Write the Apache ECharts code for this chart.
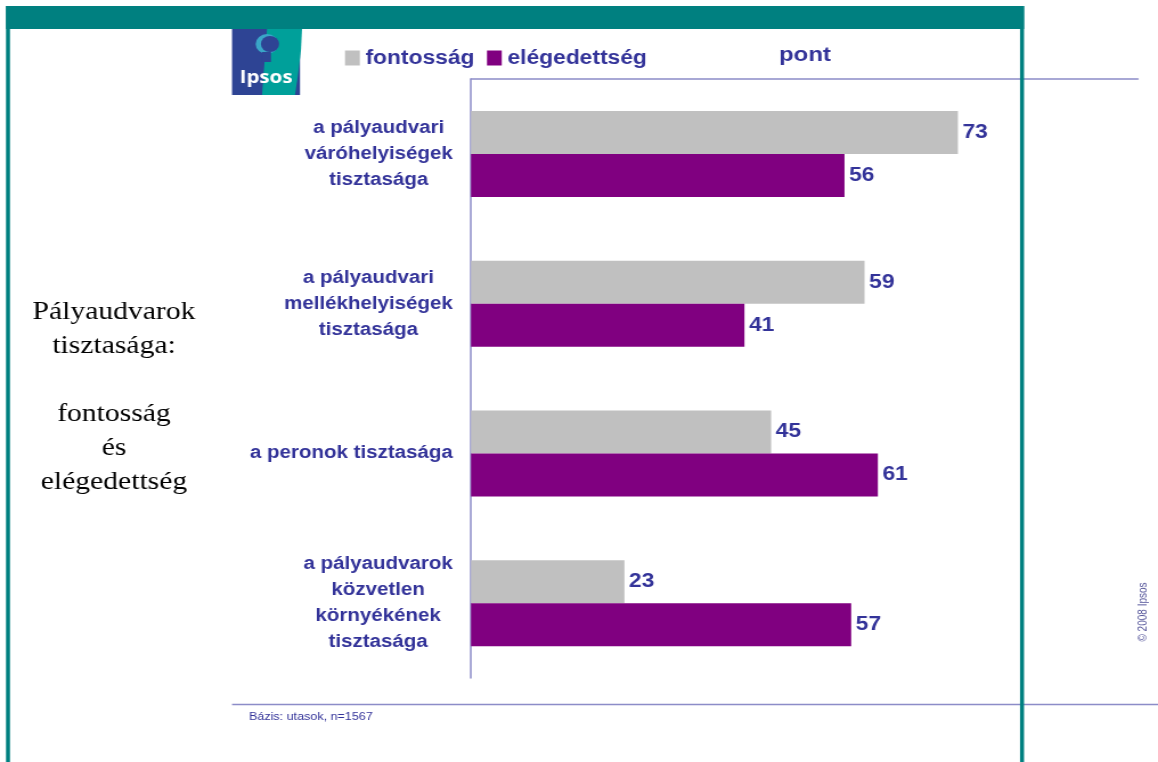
<!DOCTYPE html>
<html>
<head>
<meta charset="utf-8">
<title>Pályaudvarok tisztasága</title>
<script src="https://cdn.jsdelivr.net/npm/echarts@6/dist/echarts.min.js"></script>
<style>
  html, body { margin: 0; padding: 0; background: #fff; overflow: hidden; }
  /* az eredeti 4:3-as dia vízszintesen nyújtva jelenik meg */
  #chart { width: 1016px; height: 762px; transform: scaleX(1.13976); transform-origin: 0 0; }
</style>
</head>
<body>
<div id="chart"></div>
<script>
// adatok
const categories = [
  'a pályaudvari\nváróhelyiségek\ntisztasága',
  'a pályaudvari\nmellékhelyiségek\ntisztasága',
  'a peronok tisztasága',
  'a pályaudvarok\nközvetlen\nkörnyékének\ntisztasága'
]
const fontossag = [73, 59, 45, 23]
const elegedettseg = [56, 41, 61, 57]

const blue = '#333399'
const teal = '#008080'
const lineColor = '#8c8cc8'
const k = 1158 / 1016 // nyújtás: a képernyő x koordinátáit ezzel osztjuk
const px = x => x / k

const myChart = echarts.init(document.getElementById('chart'))

const option = {
  animation: false,
  color: ['#c0c0c0', '#800080'],
  title: [
    {
      text: 'pont',
      left: px(779),
      top: 45,
      padding: 0,
      textStyle: { color: blue, fontFamily: 'Liberation Sans', fontSize: 21, fontWeight: 'bold' }
    }
  ],
  legend: {
    left: px(345),
    top: 48,
    padding: 0,
    icon: 'rect',
    itemWidth: 13,
    itemHeight: 15,
    itemGap: 11,
    textStyle: { color: blue, fontFamily: 'Liberation Sans', fontSize: 20, fontWeight: 'bold' }
  },
  grid: {
    left: px(471),
    top: 79,
    width: px(667),
    height: 599,
    containLabel: false
  },
  xAxis: {
    type: 'value',
    position: 'top',
    min: 0,
    max: 100,
    axisLine: { show: true, lineStyle: { color: lineColor, width: 1.5 } },
    axisTick: { show: false },
    axisLabel: { show: false },
    splitLine: { show: false }
  },
  yAxis: {
    type: 'category',
    inverse: true,
    data: categories,
    axisTick: { show: false },
    axisLine: { show: true, lineStyle: { color: lineColor, width: 1.5 } },
    axisLabel: {
      margin: 16,
      align: 'right',
      // sorok középre zárva a blokkon belül
      formatter: function (value) {
        return value.split('\n').map(function (s) { return '{c|' + s + '}' }).join('\n')
      },
      rich: {
        c: {
          align: 'center',
          color: blue,
          fontFamily: 'Liberation Sans',
          fontSize: 18,
          fontWeight: 'bold',
          lineHeight: 26
        }
      }
    }
  },
  series: [
    {
      name: 'fontosság',
      type: 'bar',
      data: fontossag,
      barWidth: 43,
      barGap: '0%',
      label: {
        show: true,
        position: 'right',
        distance: 4,
        color: blue,
        fontFamily: 'Liberation Sans',
        fontSize: 20,
        fontWeight: 'bold'
      }
    },
    {
      name: 'elégedettség',
      type: 'bar',
      data: elegedettseg,
      barWidth: 43,
      barGap: '0%',
      label: {
        show: true,
        position: 'right',
        distance: 4,
        color: blue,
        fontFamily: 'Liberation Sans',
        fontSize: 20,
        fontWeight: 'bold'
      }
    }
  ],
  graphic: [
    // keret
    { type: 'rect', shape: { x: px(6), y: 6, width: px(1018), height: 23 }, style: { fill: teal }, silent: true },
    { type: 'rect', shape: { x: px(6), y: 6, width: px(4), height: 756 }, style: { fill: teal }, silent: true },
    { type: 'rect', shape: { x: px(1020), y: 6, width: px(4), height: 756 }, style: { fill: teal }, silent: true, z: 100 },
    // alsó vonal
    { type: 'line', shape: { x1: px(232), y1: 704.5, x2: px(1158), y2: 704.5 }, style: { stroke: lineColor, lineWidth: 1.5 }, silent: true },
    // logó
    { type: 'rect', shape: { x: px(232), y: 29, width: px(68), height: 66 }, style: { fill: '#2e4494' }, silent: true },
    {
      type: 'polygon',
      shape: { points: [[px(267), 29], [px(302), 29], [px(301), 50], [px(298), 75], [px(295), 95], [px(262), 95]] },
      style: { fill: '#00a09a' },
      silent: true
    },
    { type: 'circle', shape: { cx: px(267), cy: 44, r: 10 }, style: { fill: '#3aa6c8' }, silent: true },
    { type: 'circle', shape: { cx: px(270), cy: 44, r: 8 }, style: { fill: '#2e4494' }, silent: true },
    { type: 'rect', shape: { x: px(262), y: 52, width: px(9), height: 10 }, style: { fill: '#2e4494' }, silent: true },
    {
      type: 'text',
      style: { text: 'Ipsos', x: px(266), y: 78, align: 'center', verticalAlign: 'middle', fill: '#fff', font: 'bold 18px "Open Sans", "Liberation Sans"' },
      silent: true
    },
    // bal oldali cím
    {
      type: 'text',
      style: {
        text: 'Pályaudvarok\ntisztasága:\n\nfontosság\nés\nelégedettség',
        x: px(114),
        y: 397,
        align: 'center',
        verticalAlign: 'middle',
        fill: '#000',
        font: '26px "Liberation Serif", "DejaVu Serif", serif',
        lineHeight: 34
      },
      silent: true
    },
    // bázis
    {
      type: 'text',
      style: { text: 'Bázis: utasok, n=1567', x: px(249), y: 717, verticalAlign: 'middle', fill: blue, font: '11px "Liberation Sans", Arial' },
      silent: true
    },
    // copyright
    {
      type: 'text',
      x: px(1143),
      y: 612,
      rotation: Math.PI / 2,
      style: { text: '© 2008 Ipsos', align: 'center', verticalAlign: 'middle', fill: '#55559a', font: '10px "Liberation Sans", Arial' },
      silent: true
    }
  ]
}

myChart.setOption(option)
</script>
</body>
</html>
